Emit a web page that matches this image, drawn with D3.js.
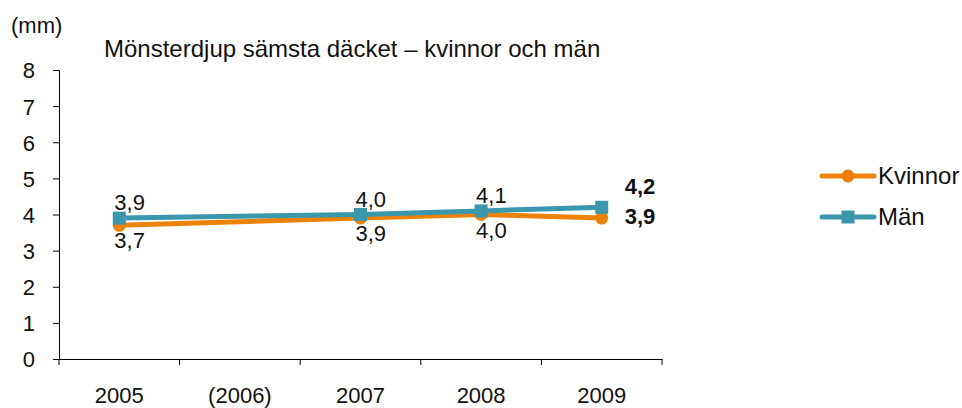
<!DOCTYPE html>
<html lang="sv">
  <head>
    <meta charset="UTF-8" />
    <title>Mönsterdjup sämsta däcket</title>
    <style>
      body {
        margin: 0;
        background: #fff;
        font-family: "Liberation Sans", Arial, Helvetica, sans-serif;
      }
      svg text {
        fill: #111;
      }
    </style>
  </head>
  <body>
    <script src="https://cdn.jsdelivr.net/npm/d3@7"></script>
    <script>
      // data
      var years = ["2005", "(2006)", "2007", "2008", "2009"];
      var kvinnor = [3.7, null, 3.9, 4.0, 3.9];
      var man = [3.9, null, 4.0, 4.1, 4.2];
      var yTicks = [0, 1, 2, 3, 4, 5, 6, 7, 8];

      var orange = "#ec8208";
      var teal = "#3b97ab";

      var svg = d3
        .select("body")
        .append("svg")
        .attr("width", 962)
        .attr("height", 408);

      var x = d3.scaleBand().domain(years).range([59, 662]);
      var y = d3.scaleLinear().domain([0, 8]).range([359, 70]);

      // axes
      var yAxis = svg
        .append("g")
        .attr("transform", "translate(59,0)")
        .call(d3.axisLeft(y).tickValues(yTicks).tickSize(6).tickPadding(18));
      yAxis.selectAll("text").style("font-size", "22px").attr("dy", "0.36em");

      var xAxis = svg
        .append("g")
        .attr("transform", "translate(0,359)")
        .call(d3.axisBottom(x).tickSize(0).tickPadding(28));
      xAxis.selectAll("text").style("font-size", "22px");
      // category boundary ticks
      xAxis
        .selectAll("line.sep")
        .data(years.concat(["end"]))
        .enter()
        .append("line")
        .attr("class", "sep")
        .attr("x1", function (d, i) { return x.range()[0] + i * x.bandwidth(); })
        .attr("x2", function (d, i) { return x.range()[0] + i * x.bandwidth(); })
        .attr("y1", 0)
        .attr("y2", 6)
        .attr("stroke", "#000");
      svg.selectAll(".domain").attr("stroke", "#000");

      function cx(i) { return x(years[i]) + x.bandwidth() / 2; }

      var series = [
        { name: "Kvinnor", values: kvinnor, color: orange, shape: "circle", labelDy: 23, lastDy: 6 },
        { name: "Män", values: man, color: teal, shape: "square", labelDy: -8, lastDy: -13 }
      ];

      var line = d3
        .line()
        .x(function (d) { return cx(d.i); })
        .y(function (d) { return y(d.v); });

      series.forEach(function (s) {
        var pts = s.values
          .map(function (v, i) { return { v: v, i: i }; })
          .filter(function (d) { return d.v != null; });

        svg
          .append("path")
          .datum(pts)
          .attr("d", line)
          .attr("fill", "none")
          .attr("stroke", s.color)
          .attr("stroke-width", 5)
          .attr("stroke-linejoin", "round")
          .attr("stroke-linecap", "round");

        var g = svg.append("g");
        if (s.shape === "circle") {
          g.selectAll("circle")
            .data(pts)
            .enter()
            .append("circle")
            .attr("cx", function (d) { return cx(d.i); })
            .attr("cy", function (d) { return y(d.v); })
            .attr("r", 6.5)
            .attr("fill", s.color);
        } else {
          g.selectAll("rect")
            .data(pts)
            .enter()
            .append("rect")
            .attr("x", function (d) { return cx(d.i) - 6.5; })
            .attr("y", function (d) { return y(d.v) - 6.5; })
            .attr("width", 13)
            .attr("height", 13)
            .attr("fill", s.color);
        }

        // value labels (last one drawn bold to the right)
        var n = pts.length;
        svg
          .append("g")
          .selectAll("text")
          .data(pts)
          .enter()
          .append("text")
          .attr("x", function (d, i) { return i === n - 1 ? cx(d.i) + 23 : cx(d.i) - 5; })
          .attr("y", function (d, i) { return y(d.v) + (i === n - 1 ? s.lastDy : s.labelDy); })
          .style("font-size", "22px")
          .style("font-weight", function (d, i) { return i === n - 1 ? "bold" : "normal"; })
          .text(function (d) { return d3.format(".1f")(d.v).replace(".", ","); });
      });

      // titles
      svg.append("text").attr("x", 11).attr("y", 33).style("font-size", "22px").text("(mm)");
      svg
        .append("text")
        .attr("x", 104)
        .attr("y", 57)
        .style("font-size", "24px")
        .text("Mönsterdjup sämsta däcket – kvinnor och män");

      // legend
      var legend = svg
        .selectAll("g.legend")
        .data(series)
        .enter()
        .append("g")
        .attr("class", "legend")
        .attr("transform", function (d, i) { return "translate(822," + (176 + i * 41) + ")"; });
      legend
        .append("line")
        .attr("x1", 0)
        .attr("x2", 52)
        .attr("stroke", function (d) { return d.color; })
        .attr("stroke-width", 5)
        .attr("stroke-linecap", "round");
      legend.each(function (d) {
        var g = d3.select(this);
        if (d.shape === "circle") {
          g.append("circle").attr("cx", 26).attr("r", 6.5).attr("fill", d.color);
        } else {
          g.append("rect").attr("x", 19.5).attr("y", -6.5).attr("width", 13).attr("height", 13).attr("fill", d.color);
        }
      });
      legend
        .append("text")
        .attr("x", 56)
        .attr("y", 8)
        .style("font-size", "24px")
        .text(function (d) { return d.name; });
    </script>
  </body>
</html>
